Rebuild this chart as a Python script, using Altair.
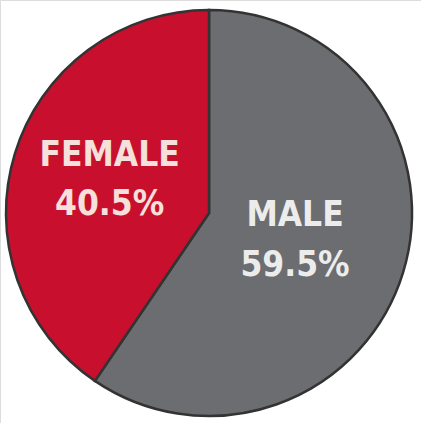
import altair as alt
import pandas as pd
import math

categories = ["MALE", "FEMALE"]
values = [59.5, 40.5]
labels = ["59.5%", "40.5%"]
colors = ["#6c6d70", "#c8102e"]

df = pd.DataFrame({
    "cat": categories,
    "value": values,
    "pct": labels,
    "order": [0, 1],
})
df["label"] = df["cat"] + "\n" + df["pct"]

tscale = alt.Scale(domain=[0, 100], range=[0, 2 * math.pi])
cx, cy = alt.value(209), alt.value(213)

base = alt.Chart(df).transform_window(
    cum="sum(value)", sort=[alt.SortField("order")]
).transform_calculate(
    start="datum.cum - datum.value",
    mid="datum.cum - datum.value / 2",
)

pie = base.mark_arc(outerRadius=203, stroke="#333333", strokeWidth=2.5).encode(
    theta=alt.Theta("start:Q", scale=tscale),
    theta2="cum:Q",
    x=cx, y=cy,
    color=alt.Color("cat:N", scale=alt.Scale(domain=categories, range=colors), legend=None),
)

font = "DejaVu Sans Condensed, Liberation Sans Narrow, DejaVu Sans"

text_male = base.transform_filter(alt.datum.cat == "MALE").mark_text(
    radius=90, dy=-24, font=font, fontWeight="bold", fontSize=35, lineBreak="\n",
    lineHeight=50, color="#ececec", align="center", baseline="middle"
).encode(theta=alt.Theta("mid:Q", scale=tscale), x=cx, y=cy, text="label:N")

text_female = base.transform_filter(alt.datum.cat == "FEMALE").mark_text(
    radius=104, dy=-27, font=font, fontWeight="bold", fontSize=35, lineBreak="\n",
    lineHeight=49, color="#f6e0dc", align="center", baseline="middle"
).encode(theta=alt.Theta("mid:Q", scale=tscale), x=cx, y=cy, text="label:N")

chart = alt.layer(pie, text_male, text_female).properties(
    width=421, height=423, padding=0, autosize=alt.AutoSizeParams(type="none")
).configure_view(stroke=None).configure(background="white")

chart.save("out.html", embed_options={"renderer": "svg", "actions": False})
